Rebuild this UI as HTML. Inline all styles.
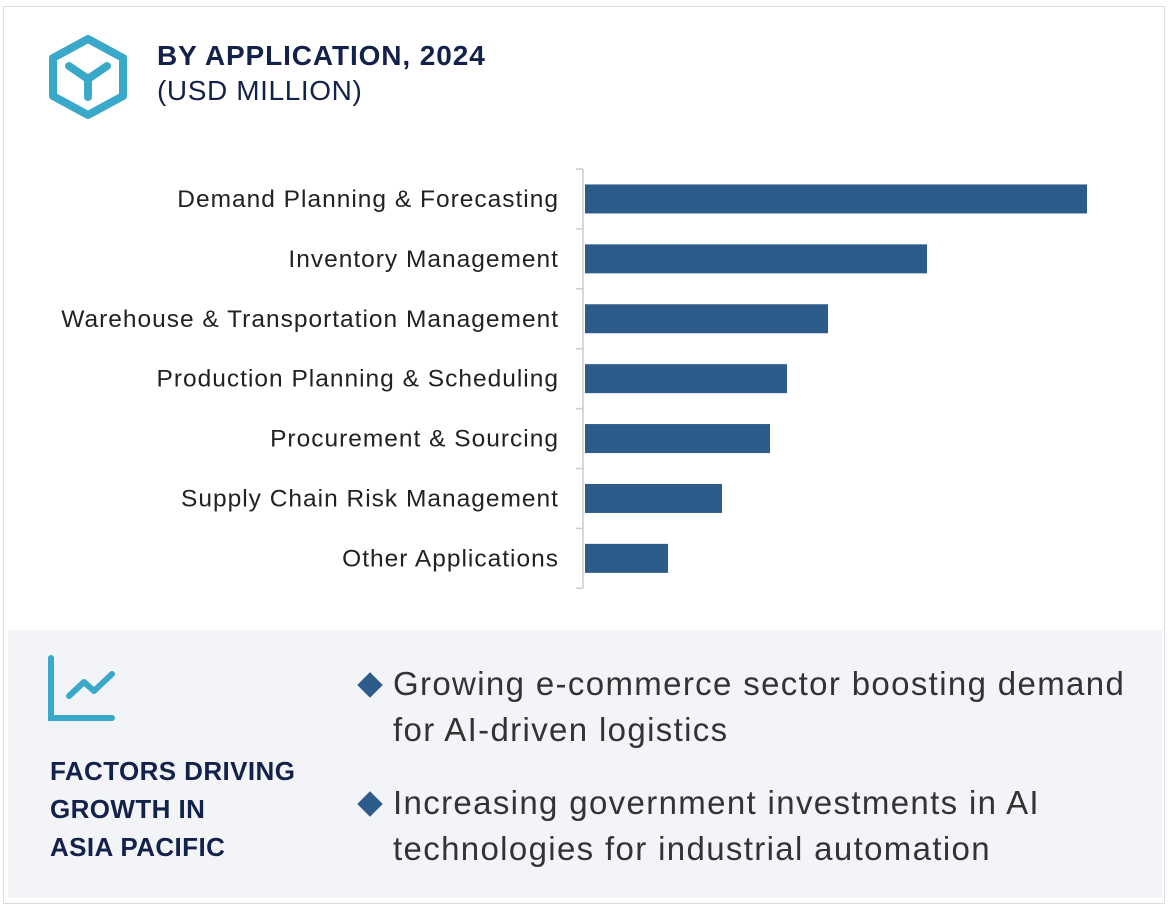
<!DOCTYPE html>
<html><head><meta charset="utf-8"><style>
body{margin:0;width:1170px;height:909px;background:#fff;font-family:"Liberation Sans",sans-serif;overflow:hidden;position:relative}
.frame{position:absolute;left:3px;top:6px;width:1162px;height:898px;border:1.5px solid #dcdde3;box-sizing:border-box}
.t1{position:absolute;left:157px;top:40px;font-size:28px;font-weight:bold;color:#13224a;letter-spacing:0.9px}
.t2{position:absolute;left:157px;top:75px;font-size:28px;color:#13224a;letter-spacing:0.6px}
.panel{position:absolute;left:8px;top:630px;width:1154px;height:268px;background:#f3f4f8}
.f{position:absolute;left:50px;top:752px;font-size:26px;font-weight:bold;color:#13224a;line-height:38px;letter-spacing:0.4px}
.b{position:absolute;left:393px;font-size:33px;color:#333;line-height:46px;letter-spacing:1.35px}
.d{position:absolute;left:361px;width:18px;height:18px;background:#2d5b8a;transform:rotate(45deg)}
</style></head><body>
<div class="frame"></div>
<svg style="position:absolute;left:45px;top:33px" width="86" height="88">
<polygon points="43,6 78,25 78,63 43,82 8,63 8,25" fill="none" stroke="#3aa8c8" stroke-width="8" stroke-linejoin="round"/>
<path d="M24,33 L43,46 L62,33 M43,46 L43,64" fill="none" stroke="#3aa8c8" stroke-width="8" stroke-linecap="round"/>
</svg>
<div class="t1">BY APPLICATION, 2024</div>
<div class="t2">(USD MILLION)</div>
<svg id="chart" style="position:absolute;left:0;top:0" width="1170" height="620"></svg>
<div class="panel"></div>
<svg style="position:absolute;left:46px;top:654px" width="74" height="70">
<path d="M5,4 L5,64 L66,64" fill="none" stroke="#3aa8c8" stroke-width="6" stroke-linecap="round"/>
<path d="M23,42 L38,28 L48,37 L66,20" fill="none" stroke="#3aa8c8" stroke-width="6" stroke-linecap="round" stroke-linejoin="round"/>
</svg>
<div class="f">FACTORS DRIVING<br>GROWTH IN<br>ASIA PACIFIC</div>
<div class="d" style="top:676px"></div>
<div class="b" style="top:661px">Growing e-commerce sector boosting demand<br>for AI-driven logistics</div>
<div class="d" style="top:795px"></div>
<div class="b" style="top:780px">Increasing government investments in AI<br>technologies for industrial automation</div>
<script>
const categories=["Demand Planning & Forecasting","Inventory Management","Warehouse & Transportation Management","Production Planning & Scheduling","Procurement & Sourcing","Supply Chain Risk Management","Other Applications"];
const values=[502,342,243,202,185,137,83];
const svg=document.getElementById('chart');
const NS="http://www.w3.org/2000/svg";
const x0=585,xMax=502,pxMax=502,y0=169,band=59.9;
const xs=v=>x0+v/xMax*pxMax;
const yc=i=>y0+band*i+band/2;
function mk(t,a){const e=document.createElementNS(NS,t);for(const k in a)e.setAttribute(k,a[k]);svg.appendChild(e);return e;}
const ax=mk('line',{x1:583,x2:583,y1:y0,y2:y0+band*7,stroke:'#ccc','stroke-width':1.5});


for(let i=0;i<=7;i++){const t=mk('line',{x1:576,x2:583,y1:y0+band*i,y2:y0+band*i,stroke:'#ccc','stroke-width':1.5});

}
categories.forEach((c,i)=>{
const r=mk('rect',{x:x0,y:yc(i)-14.5,width:xs(values[i])-x0,height:29,fill:'#2d5b8a'});


const t=mk('text',{x:559,y:yc(i)+8,'text-anchor':'end','font-size':24.5,'letter-spacing':1,fill:'#222','font-family':'Liberation Sans, sans-serif'});
t.textContent=c;


});
</script>
</body></html>
